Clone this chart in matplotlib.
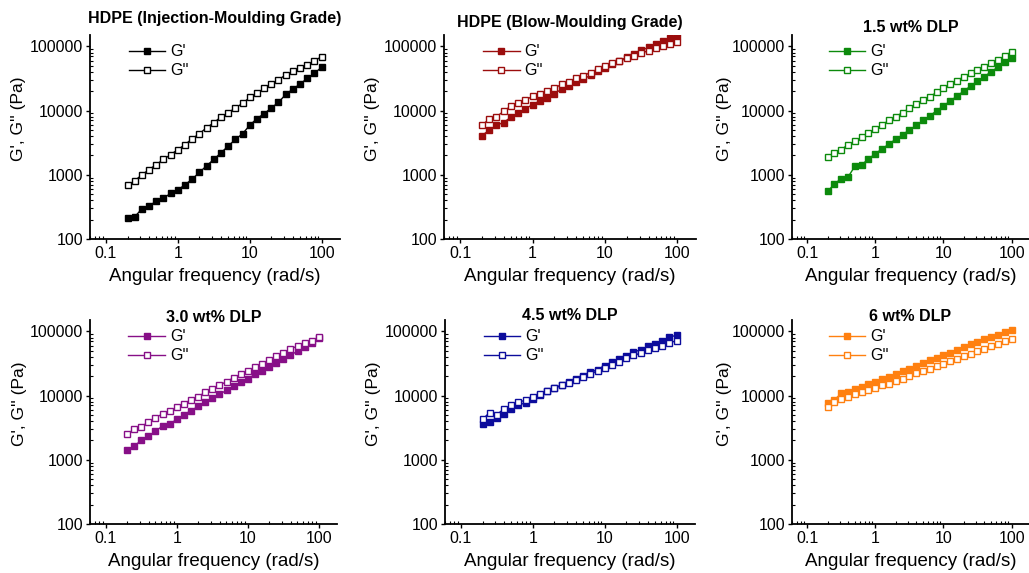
import matplotlib
matplotlib.use('Agg')
import matplotlib.pyplot as plt
from matplotlib.ticker import NullFormatter

plt.rcParams['font.family'] = ['Liberation Sans', 'DejaVu Sans']

# angular frequency sweep (rad/s), 10 points per decade
freq = [0.2, 0.25, 0.316, 0.398, 0.5, 0.631, 0.794, 1.0, 1.26, 1.58, 2.0, 2.51, 3.16, 3.98,
        5.01, 6.31, 7.94, 10.0, 12.6, 15.8, 20.0, 25.1, 31.6, 39.8, 50.1, 63.1, 79.4, 100.0]

titles = ['HDPE (Injection-Moulding Grade)', 'HDPE (Blow-Moulding Grade)', '1.5 wt% DLP',
          '3.0 wt% DLP', '4.5 wt% DLP', '6 wt% DLP']
colors = ['black', '#9b0d0d', '#0c8a0c', '#870f87', '#0c0c9c', '#ff8010']

# storage modulus G' (Pa)
g1_inj = [215, 220, 295, 325, 390, 430, 515, 580, 700, 855, 1090, 1380, 1730, 2200,
          2790, 3550, 4350, 5900, 7500, 8900, 11000, 13400, 17800, 21600, 25800, 31700, 38000, 47300]
g1_blow = [4080, 4900, 5900, 6500, 7850, 9100, 10600, 12400, 14100, 15900, 18400, 21400, 24500, 27600,
           31000, 35200, 40800, 46300, 52400, 59200, 67900, 76500, 86500, 96700, 109000, 121000, 137000, 145000]
g1_15 = [550, 716, 870, 920, 1350, 1430, 1760, 2130, 2530, 3000, 3590, 4180, 5000, 5860,
         7000, 8290, 9900, 11800, 14100, 16800, 20200, 24100, 28800, 33600, 40400, 47300, 56000, 65000]
g1_30 = [1400, 1630, 2000, 2320, 2790, 3350, 3590, 4270, 5010, 5830, 6760, 7930, 9130, 10500,
         12000, 14000, 16200, 18400, 21300, 24000, 27800, 32000, 36700, 42500, 49100, 56000, 64800, 77600]
g1_45 = [3670, 3890, 4470, 5250, 6100, 7080, 7770, 8930, 10100, 11600, 13000, 14700, 16200, 18200,
         20500, 23100, 25400, 29300, 33000, 37200, 41900, 47300, 51900, 58500, 63600, 71600, 80500, 87500]
g1_60 = [7600, 8530, 10800, 11500, 12500, 13700, 15100, 16000, 17800, 19600, 21600, 24000, 26300, 28900,
         32100, 35300, 38500, 42300, 46500, 51800, 56900, 62600, 68200, 75000, 81200, 88800, 97500, 106000]

# loss modulus G'' (Pa)
g2_inj = [690, 800, 1000, 1200, 1440, 1730, 2060, 2460, 2950, 3630, 4370, 5400, 6450, 7950,
          9200, 11000, 12900, 16000, 18500, 22100, 25700, 30000, 35900, 40600, 45700, 51500, 59500, 69100]
g2_blow = [5900, 7300, 8000, 9700, 11700, 13200, 14400, 16800, 17900, 20300, 22100, 25800, 28200, 32000,
           35100, 38900, 43900, 49000, 54000, 59200, 65000, 71300, 78500, 85600, 94000, 100000, 107000, 116000]
g2_15 = [1860, 2180, 2450, 2950, 3310, 3820, 4450, 5130, 6000, 7000, 8040, 9300, 10800, 12500,
         14600, 16500, 19100, 22300, 25700, 29200, 33700, 38000, 42800, 48000, 54300, 61200, 70800, 82500]
g2_30 = [2500, 2990, 3240, 3890, 4520, 5180, 5760, 6600, 7420, 8600, 9660, 11200, 12600, 14400,
         16500, 18900, 21300, 24000, 27800, 31300, 35900, 40900, 46600, 52400, 59500, 65300, 71600, 80400]
g2_45 = [4270, 5430, 5040, 6230, 7080, 7950, 8420, 9470, 10700, 11600, 13000, 14400, 15800, 17600,
         19400, 21900, 24000, 27000, 30200, 33800, 38100, 42100, 45700, 51500, 55100, 60100, 66000, 71600]
g2_60 = [6690, 7850, 8710, 9560, 10500, 11400, 12400, 13200, 14500, 15300, 16800, 18400, 20000, 22100,
         24000, 26300, 28600, 31500, 34300, 37600, 40800, 45100, 49000, 53900, 58500, 64100, 69800, 75100]

storage = [g1_inj, g1_blow, g1_15, g1_30, g1_45, g1_60]
loss = [g2_inj, g2_blow, g2_15, g2_30, g2_45, g2_60]

W, H = 1029, 573
fig = plt.figure(figsize=(W / 100, H / 100), dpi=100)

# panel placement in pixels: (left, bottom, width)
lefts = [90, 444, 792, 90, 445, 792]
bottoms = [239, 239, 239, 524, 524, 524]
widths = [250, 252, 237, 247, 250, 237]
title_pads = [8.5, 5.5, 2.5, -1.5, 0, -1]
ah = 204

for i in range(6):
    ax = fig.add_axes([lefts[i] / W, (H - bottoms[i]) / H, widths[i] / W, ah / H])
    c = colors[i]
    ax.plot(freq, storage[i], '-s', color=c, mfc=c, mec=c, ms=5, lw=1, label="G'")
    ax.plot(freq, loss[i], '-s', color=c, mfc='white', mec=c, ms=5, lw=1, label="G''")
    ax.set_xscale('log')
    ax.set_yscale('log')
    ax.set_xlim(0.06, 180)
    ax.set_ylim(100, 1.5e5)
    ax.set_xticks([0.1, 1, 10, 100], labels=['0.1', '1', '10', '100'])
    ax.set_yticks([100, 1000, 10000, 100000], labels=['100', '1000', '10000', '100000'])
    ax.xaxis.set_minor_formatter(NullFormatter())
    ax.yaxis.set_minor_formatter(NullFormatter())
    for s in ['top', 'right']:
        ax.spines[s].set_visible(False)
    for s in ['left', 'bottom']:
        ax.spines[s].set_linewidth(1.3)
    ax.tick_params(which='major', direction='out', length=3, width=1, labelsize=11.5, pad=2)
    ax.tick_params(which='minor', direction='in', length=2, width=0.8)
    ax.set_xlabel('Angular frequency (rad/s)', fontsize=13.5)
    ax.xaxis.set_label_coords(0.5, -0.14)
    ax.set_ylabel("G', G'' (Pa)", fontsize=12.5)
    ax.yaxis.set_label_coords(-0.255, 0.59)
    ax.set_title(titles[i], fontsize=11.5, fontweight='bold', y=1.0, pad=title_pads[i])
    leg = ax.legend(loc='upper left', bbox_to_anchor=(0.155, 0.955), frameon=False,
                    fontsize=11.5, handlelength=2.3, handletextpad=0.3, labelspacing=0.25,
                    borderpad=0, borderaxespad=0, markerscale=0.75)

fig.savefig('out.png', dpi=100)
